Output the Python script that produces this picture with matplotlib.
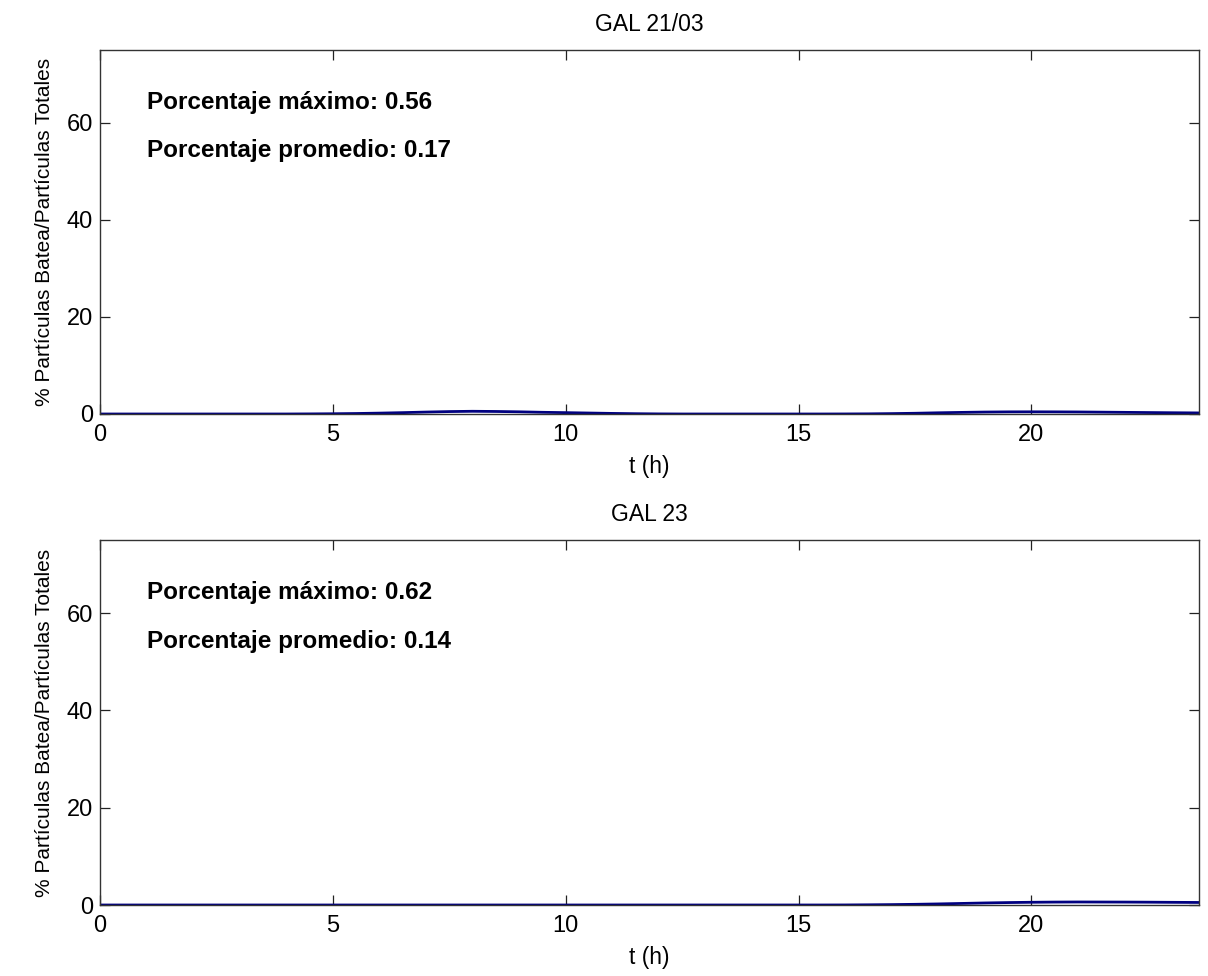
import matplotlib
matplotlib.use("Agg")
import matplotlib.pyplot as plt

plt.rcParams['font.family'] = ['Liberation Sans', 'DejaVu Sans']

# Time axis (hours) and percentage of batea particles over total particles
t_hours = [0.0, 0.5, 1.0, 1.5, 2.0, 2.5, 3.0, 3.5, 4.0, 4.5, 5.0, 5.5,
           6.0, 6.5, 7.0, 7.5, 8.0, 8.5, 9.0, 9.5, 10.0, 10.5, 11.0, 11.5,
           12.0, 12.5, 13.0, 13.5, 14.0, 14.5, 15.0, 15.5, 16.0, 16.5, 17.0, 17.5,
           18.0, 18.5, 19.0, 19.5, 20.0, 20.5, 21.0, 21.5, 22.0, 22.5, 23.0, 23.6]

pct_gal2103 = [0, 0, 0, 0, 0, 0, 0, 0, 0, 0.02, 0.05, 0.10,
               0.18, 0.28, 0.40, 0.50, 0.56, 0.52, 0.45, 0.35, 0.28, 0.20, 0.12, 0.06,
               0.02, 0, 0, 0, 0, 0, 0, 0, 0.01, 0.03, 0.08, 0.15,
               0.25, 0.33, 0.40, 0.44, 0.45, 0.44, 0.42, 0.38, 0.34, 0.30, 0.26, 0.22]

pct_gal23 = [0, 0, 0, 0, 0, 0, 0, 0, 0, 0, 0, 0,
             0, 0, 0, 0, 0, 0, 0, 0, 0, 0, 0, 0,
             0, 0, 0, 0, 0, 0, 0, 0, 0.01, 0.04, 0.08, 0.14,
             0.22, 0.32, 0.42, 0.50, 0.56, 0.60, 0.62, 0.61, 0.60, 0.58, 0.55, 0.52]

titles = ["GAL 21/03", "GAL 23"]
series = [pct_gal2103, pct_gal23]
max_labels = ["Porcentaje máximo: 0.56", "Porcentaje máximo: 0.62"]
mean_labels = ["Porcentaje promedio: 0.17", "Porcentaje promedio: 0.14"]

fig = plt.figure(figsize=(12.08, 9.76), dpi=100)
W, H = 1208, 976
boxes = [(100, 50, 1199, 414), (100, 540, 1199, 905)]

for (x0, y0, x1, y1), title, vals, mx, mn in zip(boxes, titles, series, max_labels, mean_labels):
    ax = fig.add_axes([x0 / W, 1 - y1 / H, (x1 - x0) / W, (y1 - y0) / H])
    ax.plot(t_hours, vals, color='#000080', linewidth=2.0)
    ax.set_xlim(0, 23.6)
    ax.set_ylim(0, 75)
    ax.set_xticks([0, 5, 10, 15, 20])
    ax.set_yticks([0, 20, 40, 60])
    ax.tick_params(direction='in', top=True, right=True, length=7, width=0.9,
                   labelsize=17, colors='#222222', labelcolor='black')
    ax.tick_params(axis='x', pad=7)
    ax.tick_params(axis='y', pad=5)
    for sp in ax.spines.values():
        sp.set_color('#333333')
        sp.set_linewidth(1.0)
    ax.set_title(title, fontsize=16.5, pad=14)
    ax.set_xlabel("t (h)", fontsize=16.5, labelpad=7)
    ax.set_ylabel("% Partículas Batea/Partículas Totales", fontsize=15, labelpad=9)
    ax.text(1.0, 64.2, mx, fontsize=17.5, fontweight='bold', va='center', ha='left')
    ax.text(1.0, 54.2, mn, fontsize=17.5, fontweight='bold', va='center', ha='left')

fig.savefig("out.png", dpi=100)
